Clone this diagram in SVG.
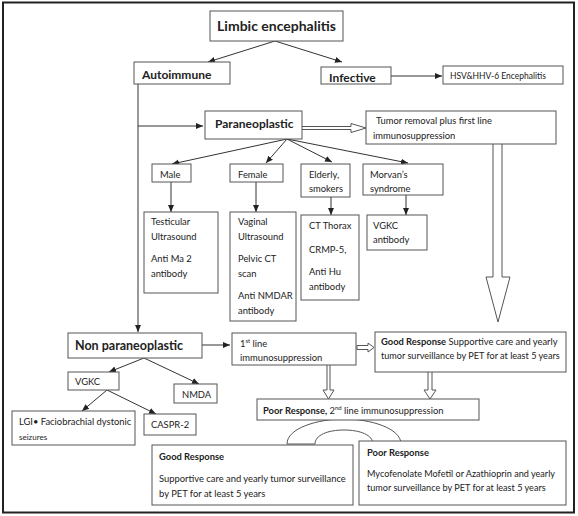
<svg xmlns="http://www.w3.org/2000/svg" width="578" height="516" viewBox="0 0 578 516">
<defs>
<marker id="ah" markerWidth="8" markerHeight="8" refX="7" refY="4" orient="auto" markerUnits="userSpaceOnUse">
<path d="M0,1 L7,4 L0,7 Z" fill="#222"/>
</marker>
<style>
.box{fill:#fff;stroke:#555;stroke-width:1}
.ln{fill:none;stroke:#333;stroke-width:1;marker-end:url(#ah)}
.hol{fill:#fff;stroke:#555;stroke-width:1}
text{font-family:"Lato","Liberation Sans",sans-serif;fill:#222}
.b{font-weight:bold}
.s{font-size:9.4px}
</style>
</defs>
<rect x="0" y="0" width="578" height="516" fill="#fff"/>
<rect x="3" y="2.5" width="571" height="510" fill="none" stroke="#222" stroke-width="2"/>

<g id="connectors">
<line class="ln" x1="275" y1="41" x2="208" y2="62"/>
<line class="ln" x1="275" y1="41" x2="342" y2="62"/>
<line class="ln" x1="391" y1="76" x2="442" y2="76"/>
<line class="ln" x1="138" y1="84" x2="138" y2="332"/>
<line class="ln" x1="138" y1="126" x2="203" y2="126"/>
<line class="ln" x1="287" y1="139" x2="172" y2="164"/>
<line class="ln" x1="287" y1="139" x2="266" y2="163"/>
<line class="ln" x1="287" y1="139" x2="332" y2="162"/>
<line class="ln" x1="287" y1="139" x2="408" y2="163"/>
<line class="ln" x1="171" y1="182" x2="171" y2="212"/>
<line class="ln" x1="256" y1="182" x2="256" y2="212"/>
<line class="ln" x1="331" y1="197" x2="331" y2="215"/>
<line class="ln" x1="406" y1="195" x2="406" y2="215"/>
<line class="ln" x1="202" y1="345" x2="230" y2="345"/>
<line class="ln" x1="144" y1="358" x2="109" y2="372"/>
<line class="ln" x1="144" y1="358" x2="199" y2="384"/>
<line class="ln" x1="107" y1="390" x2="82" y2="411"/>
<line class="ln" x1="107" y1="390" x2="156" y2="414"/>
<path class="hol" d="M302,126.5 L351,126.5 L351,123.5 L366,128 L351,132.5 L351,129.5 L302,129.5"/>
<path class="hol" d="M493,144 L493,277 L486,277 L498,322 L510,277 L502,277 L502,144"/>
<path class="hol" d="M357,345.5 L368,345.5 L368,343 L374,347.5 L368,352 L368,349.5 L357,349.5 Z"/>
<path class="hol" d="M327,365 L327,390 L323,390 L328.5,399 L334,390 L330,390 L330,365"/>
<path class="hol" d="M428,372 L428,390 L424,390 L430,399 L436,390 L432,390 L432,372"/>
<path class="hol" d="M287,444 C287,428 318,419 344,419 C370,419 401,428 401,444 L373,444 C373,435 360,430 344,430 C328,430 315,435 315,444 Z"/>
</g>

<g id="n-limbic"><rect class="box" x="210" y="11" width="133" height="30"/><text class="b" x="276.5" y="31" font-size="14" text-anchor="middle">Limbic encephalitis</text></g>
<g id="n-autoimmune"><rect class="box" x="134" y="62" width="96" height="22"/><text class="b" x="142" y="79" font-size="12">Autoimmune</text></g>
<g id="n-infective"><rect class="box" x="321" y="67" width="70" height="17"/><text class="b" x="329" y="82" font-size="12">Infective</text></g>
<g id="n-hsv"><rect class="box" x="443" y="66" width="120" height="18"/><text x="450" y="79" font-size="8.5">HSV&amp;HHV-6 Encephalitis</text></g>
<g id="n-paraneoplastic"><rect class="box" x="205" y="111" width="97" height="28"/><text class="b" x="215" y="128" font-size="12">Paraneoplastic</text></g>
<g id="n-tumor"><rect class="box" x="366" y="111" width="190" height="33"/><text class="s" x="376" y="124">Tumor removal plus first line</text><text class="s" x="373" y="139">immunosuppression</text></g>
<g id="n-male"><rect class="box" x="152" y="164" width="39" height="18"/><text class="s" x="160" y="178">Male</text></g>
<g id="n-female"><rect class="box" x="230" y="164" width="53" height="18"/><text class="s" x="238" y="178">Female</text></g>
<g id="n-elderly"><rect class="box" x="301" y="164" width="49" height="33"/><text class="s" x="309" y="178">Elderly,</text><text class="s" x="309" y="192">smokers</text></g>
<g id="n-morvan"><rect class="box" x="363" y="164" width="80" height="31"/><text class="s" x="370" y="178">Morvan’s</text><text class="s" x="370" y="192">syndrome</text></g>
<g id="n-testicular"><rect class="box" x="144" y="212" width="74" height="81"/><text class="s" x="151" y="225">Testicular</text><text class="s" x="151" y="240">Ultrasound</text><text class="s" x="151" y="262">Anti Ma 2</text><text class="s" x="151" y="277">antibody</text></g>
<g id="n-vaginal"><rect class="box" x="230" y="212" width="66" height="109"/><text class="s" x="238" y="225">Vaginal</text><text class="s" x="238" y="240">Ultrasound</text><text class="s" x="238" y="262">Pelvic CT</text><text class="s" x="238" y="277">scan</text><text class="s" x="238" y="299">Anti NMDAR</text><text class="s" x="238" y="314">antibody</text></g>
<g id="n-ctthorax"><rect class="box" x="301" y="215" width="58" height="85"/><text class="s" x="309" y="229">CT Thorax</text><text class="s" x="309" y="253">CRMP-5,</text><text class="s" x="309" y="275">Anti Hu</text><text class="s" x="309" y="290">antibody</text></g>
<g id="n-vgkc-ab"><rect class="box" x="367" y="215" width="60" height="35"/><text class="s" x="373" y="229">VGKC</text><text class="s" x="373" y="243">antibody</text></g>
<g id="n-nonpara"><rect class="box" x="68" y="333" width="134" height="25"/><text class="b" x="75" y="350" font-size="12.5">Non paraneoplastic</text></g>
<g id="n-firstline"><rect class="box" x="232" y="333" width="124" height="32"/><text class="s" x="240" y="347">1<tspan font-size="6" dy="-4">st</tspan><tspan dy="4"> line</tspan></text><text class="s" x="240" y="361">immunosuppression</text></g>
<g id="n-good1"><rect class="box" x="375" y="332" width="191" height="40"/><text class="s" x="381" y="345"><tspan class="b">Good Response</tspan> Supportive care and yearly</text><text x="381" y="359" font-size="9.1">tumor surveillance by PET for at least 5 years</text></g>
<g id="n-poor2"><rect class="box" x="257" y="399" width="222" height="21"/><text class="s" x="263" y="414"><tspan class="b">Poor Response,</tspan> 2<tspan font-size="6" dy="-4">nd</tspan><tspan dy="4"> line immunosuppression</tspan></text></g>
<g id="n-vgkc"><rect class="box" x="68" y="372" width="51" height="18"/><text class="s" x="75" y="385">VGKC</text></g>
<g id="n-nmda"><rect class="box" x="174" y="384" width="43" height="19"/><text class="s" x="182" y="398">NMDA</text></g>
<g id="n-lgi"><rect class="box" x="12" y="411" width="123" height="34"/><text class="s" x="19" y="425">LGI• Faciobrachial dystonic</text><text x="19" y="440" font-size="8">seizures</text></g>
<g id="n-caspr"><rect class="box" x="144" y="414" width="52" height="21"/><text class="s" x="151" y="428">CASPR-2</text></g>
<g id="n-good2"><rect class="box" x="152" y="445" width="201" height="60"/><text class="s b" x="159" y="460">Good Response</text><text class="s" x="159" y="482">Supportive care and yearly tumor surveillance</text><text class="s" x="159" y="497">by PET  for at least 5 years</text></g>
<g id="n-poor3"><rect class="box" x="359" y="441" width="207" height="64"/><text class="s b" x="367" y="456">Poor Response</text><text x="367" y="477" font-size="9.1">Mycofenolate Mofetil or Azathioprin and yearly</text><text x="367" y="491" font-size="9.1">tumor surveillance by PET  for at least 5 years</text></g>
</svg>
